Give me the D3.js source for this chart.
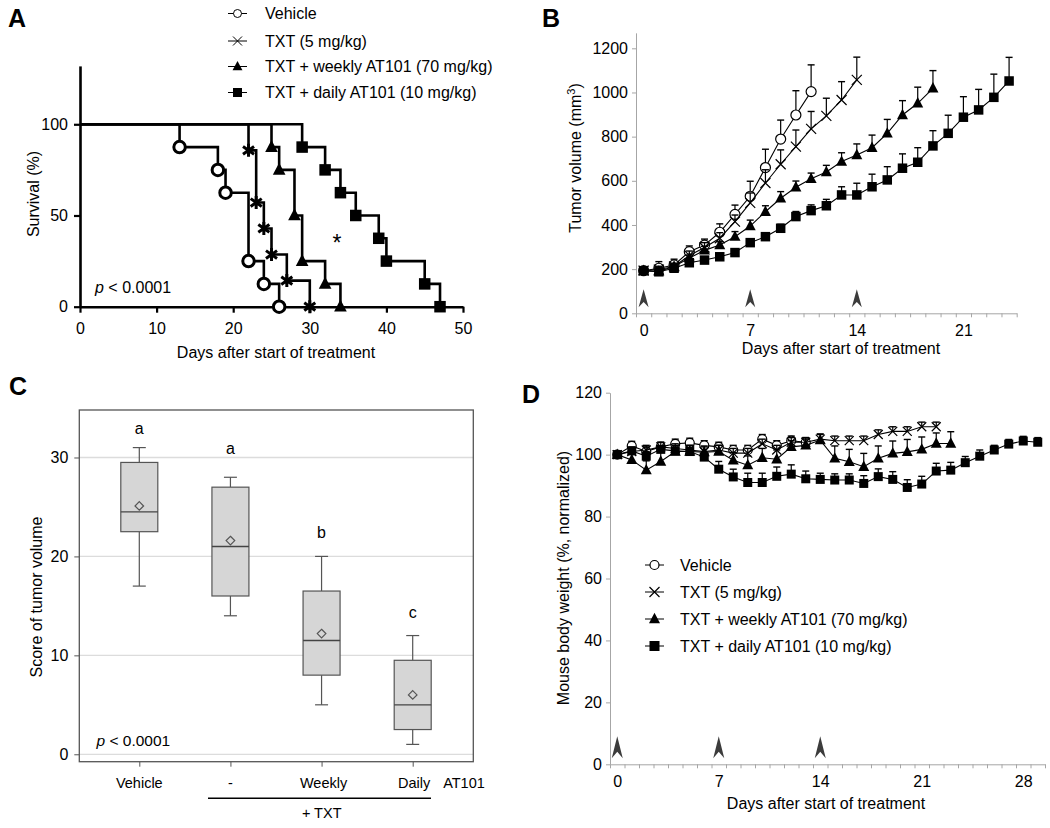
<!DOCTYPE html>
<html><head><meta charset="utf-8">
<script src="https://cdn.jsdelivr.net/npm/d3@7"></script>
<style>body{margin:0;background:#fff}svg{display:block}text{font-family:"Liberation Sans",Arial,Helvetica,sans-serif}</style>
</head><body><svg id="c" width="1050" height="828"></svg>
<script>
// ---------------- DATA ----------------
const seriesNames = ["Vehicle", "TXT (5 mg/kg)", "TXT + weekly AT101 (70 mg/kg)", "TXT + daily AT101 (10 mg/kg)"];
const markerTypes = ["circle", "cross", "triangle", "square"];

// Panel A: Kaplan-Meier events (day, survival %)
const survVehicleT = [13, 18, 19, 22, 24, 26];
const survVehicleS = [87.5, 75, 62.5, 25, 12.5, 0];
const survTxtT = [22, 23, 24, 25, 27, 30];
const survTxtS = [85.7, 57.1, 42.9, 28.6, 14.3, 0];
const survWeeklyT = [25, 26, 28, 29, 32, 34];
const survWeeklyS = [87.5, 75, 50, 25, 12.5, 0];
const survDailyT = [29, 32, 34, 36, 39, 40, 45, 47];
const survDailyS = [87.5, 75, 62.5, 50, 37.5, 25, 12.5, 0];
const survTicksX = [0, 10, 20, 30, 40, 50];
const survTicksY = [0, 50, 100];

// Panel B: tumor volume (mm3), one value per day from day 0
const volVehicle = [193, 204, 219, 279, 309, 367, 448, 530, 660, 789, 898, 1004];
const volVehicleErr = [0, 30, 26, 26, 27, 38, 42, 68, 83, 86, 110, 121];
const volTxt = [193, 198, 212, 262, 298, 340, 415, 500, 590, 675, 755, 835, 894, 966, 1057];
const volTxtErr = [0, 15, 15, 20, 22, 25, 30, 45, 60, 65, 75, 79, 80, 83, 103];
const volWeekly = [193, 190, 212, 250, 285, 309, 347, 395, 460, 521, 571, 609, 640, 687, 717, 750, 815, 898, 951, 1019];
const volWeeklyErr = [0, 12, 12, 14, 18, 15, 23, 27, 27, 30, 28, 26, 30, 40, 50, 57, 63, 65, 73, 80];
const volDaily = [193, 188, 204, 229, 241, 256, 275, 320, 347, 385, 438, 465, 487, 536, 536, 573, 604, 657, 684, 758, 815, 888, 921, 978, 1052];
const volDailyErr = [0, 8, 8, 10, 10, 10, 12, 15, 15, 18, 23, 26, 29, 37, 53, 57, 60, 65, 66, 69, 82, 93, 93, 105, 107];
const volTicksY = [0, 200, 400, 600, 800, 1000, 1200];
const dayLabelsB = [0, 7, 14, 21];
const doseDays = [0, 7, 14];

// Panel C: box plots of tumor-volume score
const boxCategories = ["Vehicle", "-", "Weekly", "Daily"];
const boxMin = [17, 14, 5, 1];
const boxQ1 = [22.5, 16, 8, 2.5];
const boxMedian = [24.5, 21, 11.5, 5];
const boxQ3 = [29.5, 27, 16.5, 9.5];
const boxMax = [31, 28, 20, 12];
const boxMean = [25.1, 21.6, 12.2, 6.0];
const boxLetters = ["a", "a", "b", "c"];
const boxLetterLevel = [32.4, 30.4, 21.9, 13.8];
const scoreTicks = [0, 10, 20, 30];

// Panel D: body weight (% normalized), one value per day from day 0
const bwVehicle = [100, 102.8, 101, 102.5, 103.5, 103.8, 103, 102.5, 101.5, 101.5, 105, 103, 104.5, 104];
const bwVehicleErr = [0, 1.5, 1.5, 1.5, 1.5, 1.5, 1.5, 1.5, 1.5, 1.5, 1.5, 1.5, 1.5, 1.5];
const bwTxt = [100, 101, 101.5, 102.5, 102, 101.5, 101, 101.5, 100.5, 100.5, 103.5, 101.5, 104, 104, 105, 104.5, 104.5, 104.5, 106.5, 107.5, 107.5, 109, 109];
const bwTxtErr = [0, 1.5, 1.5, 1.5, 1.5, 1.5, 1.5, 1.5, 1.5, 1.5, 1.5, 1.5, 1.5, 1.5, 1.5, 1.5, 1.5, 1.5, 1.5, 1.5, 1.5, 1.5, 1.5];
const bwWeekly = [100, 98.3, 95, 97.8, 101, 101, 100.8, 101, 98.2, 96.6, 99, 98.5, 102.5, 103, 104.7, 98.8, 97.7, 96.1, 98.8, 100.4, 100.9, 101.7, 103.6, 103.6];
const bwWeeklyErr = [0, 2, 3, 3, 2, 2, 2, 2, 2.5, 3, 3, 3, 2, 2, 2, 4, 4, 4.3, 4, 4, 4, 4, 3.4, 3.8];
const bwDaily = [100, 101.2, 99.5, 101.7, 101.2, 101, 99.2, 95.3, 92.8, 91, 91, 93, 93.7, 92.2, 92, 91.8, 91.8, 90.7, 92.9, 92, 89.4, 90.5, 94.7, 95, 97.4, 99.5, 101.5, 103.4, 104.4, 104];
const bwDailyErr = [0, 1, 1.5, 1, 1, 1, 1.5, 2.5, 2.5, 3, 3, 3, 3, 2.5, 2, 2, 2, 2.5, 2.5, 2.5, 2.5, 2.5, 2.5, 2.5, 2, 2, 1.5, 1.5, 1.5, 1.5];
const bwTicksY = [0, 20, 40, 60, 80, 100, 120];
const dayLabelsD = [0, 7, 14, 21, 28];

// ---------------- DRAWING ----------------
const svg = d3.select("#c");
svg.append("rect").attr("width", 1050).attr("height", 828).attr("fill", "#fff");
const AXC = "#a6a6a6";

function drawMarker(g, type, x, y, s, sw) {
  if (type === "circle") {
    g.append("circle").attr("cx", x).attr("cy", y).attr("r", s / 2)
      .attr("fill", "#fff").attr("stroke", "#000").attr("stroke-width", sw);
  } else if (type === "square") {
    g.append("rect").attr("x", x - s / 2).attr("y", y - s / 2).attr("width", s).attr("height", s).attr("fill", "#000");
  } else if (type === "triangle") {
    g.append("path").attr("d", `M${x},${y - s * 0.62}L${x + s * 0.55},${y + s * 0.42}L${x - s * 0.55},${y + s * 0.42}Z`).attr("fill", "#000");
  } else if (type === "cross") {
    const h = s / 2;
    g.append("path").attr("d", `M${x - h},${y - h}L${x + h},${y + h}M${x + h},${y - h}L${x - h},${y + h}`)
      .attr("stroke", "#000").attr("stroke-width", sw).attr("fill", "none");
  } else if (type === "star") {
    const h = s / 2;
    g.append("path").attr("d", `M${x - h * 0.85},${y - h * 0.6}L${x + h * 0.85},${y + h * 0.6}M${x + h * 0.85},${y - h * 0.6}L${x - h * 0.85},${y + h * 0.6}M${x},${y - h}L${x},${y + h}`)
      .attr("stroke", "#000").attr("stroke-width", sw).attr("fill", "none");
  }
}

function panelLetter(t, x, y) {
  svg.append("text").attr("x", x).attr("y", y).attr("font-size", 25).attr("font-weight", "bold").text(t);
}

function arrow(g, x, yBase, h, w) {
  g.append("path")
    .attr("d", `M${x},${yBase - h}L${x + w / 2},${yBase}L${x},${yBase - h * 0.3}L${x - w / 2},${yBase}Z`)
    .attr("fill", "#3c3c3c");
}

// ======== Panel A ========
(function () {
  const g = svg.append("g");
  const x = d3.scaleLinear([0, 50], [80, 463]);
  const y = d3.scaleLinear([0, 132], [306.7, 65.9]);

  const groups = [
    [survVehicleT, survVehicleS, "circle"],
    [survTxtT, survTxtS, "star"],
    [survWeeklyT, survWeeklyS, "triangle"],
    [survDailyT, survDailyS, "square"]
  ];
  const line = d3.line().x(d => x(d[0])).y(d => y(d[1])).curve(d3.curveStepAfter);
  groups.forEach(([T, S]) => {
    const pts = [[0, 100]].concat(T.map((t, i) => [t, S[i]]));
    g.append("path").attr("d", line(pts)).attr("fill", "none").attr("stroke", "#000").attr("stroke-width", 2.6);
  });

  const ax = g.append("g").attr("transform", "translate(0,306.7)")
    .call(d3.axisBottom(x).tickValues(survTicksX).tickSize(6).tickSizeOuter(0));
  ax.select(".domain").attr("stroke-width", 2.6);
  ax.selectAll(".tick line").attr("stroke-width", 2.2);
  ax.selectAll("text").attr("font-size", 16).attr("font-family", null).attr("y", 16);
  const ay = g.append("g").attr("transform", "translate(80,0)")
    .call(d3.axisLeft(y).tickValues(survTicksY).tickSize(6).tickSizeOuter(0).tickPadding(6));
  ay.select(".domain").attr("stroke-width", 2.6);
  ay.selectAll(".tick line").attr("stroke-width", 2.2);
  ay.selectAll("text").attr("font-size", 16).attr("font-family", null);

  groups.forEach(([T, S, m]) => {
    T.forEach((t, i) => {
      const s = m === "circle" ? 11.5 : m === "star" ? 13 : 11.5;
      drawMarker(g, m, x(t), y(S[i]), s, 3);
    });
  });

  g.append("text").attr("x", 276).attr("y", 357.5).attr("text-anchor", "middle").attr("font-size", 16).text("Days after start of treatment");
  g.append("text").attr("transform", "translate(39,194) rotate(-90)").attr("text-anchor", "middle").attr("font-size", 16).text("Survival (%)");
  const p = g.append("text").attr("x", 95).attr("y", 292.5).attr("font-size", 16);
  p.append("tspan").attr("font-style", "italic").text("p");
  p.append("tspan").text(" < 0.0001");
  g.append("text").attr("x", 337).attr("y", 251).attr("text-anchor", "middle").attr("font-size", 23).text("*");

  const rows = [13.5, 41, 66.5, 92.5];
  seriesNames.forEach((n, i) => {
    g.append("line").attr("x1", 228).attr("x2", 247).attr("y1", rows[i]).attr("y2", rows[i]).attr("stroke", "#000").attr("stroke-width", 1);
    drawMarker(g, markerTypes[i], 237.5, rows[i], markerTypes[i] === "circle" ? 8 : 9, 1);
    g.append("text").attr("x", 265).attr("y", rows[i] + 5.5).attr("font-size", 16).text(n);
  });
  panelLetter("A", 8, 27);
})();

// ======== generic time-course panel (B and D) ========
function timeCourse(cfg) {
  const g = svg.append("g");
  const x = d3.scaleLinear(cfg.xDom, cfg.xRange);
  const y = d3.scaleLinear(cfg.yDom, cfg.yRange);
  const y0 = cfg.yRange[0];

  const tickVals = d3.range(cfg.xDom[0], cfg.xDom[1] + 0.01, 1);
  const ax = g.append("g").attr("transform", `translate(0,${y0})`)
    .call(d3.axisBottom(x).tickValues(tickVals).tickFormat("").tickSize(4).tickSizeOuter(0));
  ax.selectAll("path,line").attr("stroke", AXC);
  const axl = g.append("g").attr("transform", `translate(0,${y0})`)
    .call(d3.axisBottom(x).tickValues(cfg.dayLabels).tickSize(0).tickPadding(0));
  axl.select(".domain").remove();
  axl.selectAll("text").attr("font-size", 16).attr("font-family", null).attr("dy", null).attr("y", cfg.tickLabelY);
  const ay = g.append("g").attr("transform", `translate(${cfg.xRange[0]},0)`)
    .call(d3.axisLeft(y).tickValues(cfg.yTicks).tickFormat(d3.format("d")).tickSize(4).tickSizeOuter(0).tickPadding(4));
  ay.selectAll("path,line").attr("stroke", AXC);
  ay.selectAll("text").attr("font-size", 16).attr("font-family", null);

  doseDays.forEach(d => arrow(g, x(d), y0 - cfg.arrowGap, cfg.arrowH, cfg.arrowW));

  const line = d3.line().x((d, i) => x(i)).y(d => y(d));
  cfg.series.forEach(([vals, errs, m]) => {
    const sg = g.append("g");
    vals.forEach((v, i) => {
      if (errs[i] > 0) {
        const yt = y(v + errs[i]);
        sg.append("line").attr("x1", x(i)).attr("x2", x(i)).attr("y1", y(v)).attr("y2", yt).attr("stroke", "#000").attr("stroke-width", 1.2);
        sg.append("line").attr("x1", x(i) - 3.5).attr("x2", x(i) + 3.5).attr("y1", yt).attr("y2", yt).attr("stroke", "#000").attr("stroke-width", 1.4);
      }
    });
    sg.append("path").attr("d", line(vals)).attr("fill", "none").attr("stroke", "#000").attr("stroke-width", 1.1);
    vals.forEach((v, i) => drawMarker(sg, m, x(i), y(v), cfg.msize[m], 1.2));
  });

  g.append("text").attr("x", cfg.xLabel[0]).attr("y", cfg.xLabel[1]).attr("text-anchor", "middle").attr("font-size", 16).text("Days after start of treatment");
  return g;
}

// ======== Panel B ========
(function () {
  const g = timeCourse({
    xDom: [-0.5, 24.5], xRange: [636, 1016.7],
    yDom: [0, 1270], yRange: [313.3, 32.85],
    yTicks: volTicksY, dayLabels: dayLabelsB, tickLabelY: 22.3,
    arrowGap: 6, arrowH: 18, arrowW: 10,
    msize: { circle: 10, cross: 10, triangle: 10, square: 9.5 },
    series: [[volVehicle, volVehicleErr, "circle"], [volTxt, volTxtErr, "cross"], [volWeekly, volWeeklyErr, "triangle"], [volDaily, volDailyErr, "square"]],
    xLabel: [841, 354]
  });
  const t = g.append("text").attr("transform", "translate(581,158) rotate(-90)").attr("text-anchor", "middle").attr("font-size", 16);
  t.append("tspan").text("Tumor volume (mm");
  t.append("tspan").attr("font-size", 11).attr("dy", -6).text("3");
  t.append("tspan").attr("dy", 6).text(")");
  panelLetter("B", 542, 27);
})();

// ======== Panel D ========
(function () {
  const g = timeCourse({
    xDom: [-0.5, 29.5], xRange: [610, 1045],
    yDom: [0, 120], yRange: [764.3, 392.7],
    yTicks: bwTicksY, dayLabels: dayLabelsD, tickLabelY: 23.2,
    arrowGap: 6, arrowH: 22, arrowW: 11,
    msize: { circle: 9, cross: 9, triangle: 10, square: 9 },
    series: [[bwVehicle, bwVehicleErr, "circle"], [bwTxt, bwTxtErr, "cross"], [bwWeekly, bwWeeklyErr, "triangle"], [bwDaily, bwDailyErr, "square"]],
    xLabel: [826, 809]
  });
  g.append("text").attr("transform", "translate(569,578) rotate(-90)").attr("text-anchor", "middle").attr("font-size", 16).text("Mouse body weight (%, normalized)");
  const rows = [565, 592, 619, 646];
  seriesNames.forEach((n, i) => {
    g.append("line").attr("x1", 645).attr("x2", 664).attr("y1", rows[i]).attr("y2", rows[i]).attr("stroke", "#000").attr("stroke-width", 1);
    drawMarker(g, markerTypes[i], 654.5, rows[i], markerTypes[i] === "circle" ? 9 : 10, 1.2);
    g.append("text").attr("x", 680).attr("y", rows[i] + 5.5).attr("font-size", 16).text(n);
  });
  panelLetter("D", 522, 403);
})();

// ======== Panel C ========
(function () {
  const g = svg.append("g");
  const left = 79.3, right = 473.3, top = 410, bottom = 761.7;
  const x = d3.scalePoint(boxCategories, [139.3, 412.7]);
  const y = d3.scaleLinear([-0.75, 34.8], [bottom, top]);

  scoreTicks.forEach(v => {
    g.append("line").attr("x1", left).attr("x2", right).attr("y1", y(v)).attr("y2", y(v)).attr("stroke", "#dcdcdc").attr("stroke-width", 1.3);
  });
  const ay = g.append("g").attr("transform", `translate(${left},0)`)
    .call(d3.axisLeft(y).tickValues(scoreTicks).tickSize(5).tickSizeOuter(0).tickPadding(6));
  ay.select(".domain").remove();
  ay.selectAll("line").attr("stroke", "#555");
  ay.selectAll("text").attr("font-size", 16).attr("font-family", null);
  const ax = g.append("g").attr("transform", `translate(0,${bottom})`)
    .call(d3.axisBottom(x).tickSize(5).tickSizeOuter(0).tickFormat(""));
  ax.select(".domain").remove();
  ax.selectAll("line").attr("stroke", "#555");

  const bw = 37, cw = 13;
  boxCategories.forEach((c, i) => {
    const cx = x(c);
    const st = { stroke: "#555", w: 1.2 };
    g.append("line").attr("x1", cx).attr("x2", cx).attr("y1", y(boxMax[i])).attr("y2", y(boxQ3[i])).attr("stroke", st.stroke).attr("stroke-width", st.w);
    g.append("line").attr("x1", cx).attr("x2", cx).attr("y1", y(boxQ1[i])).attr("y2", y(boxMin[i])).attr("stroke", st.stroke).attr("stroke-width", st.w);
    g.append("line").attr("x1", cx - cw / 2).attr("x2", cx + cw / 2).attr("y1", y(boxMax[i])).attr("y2", y(boxMax[i])).attr("stroke", st.stroke).attr("stroke-width", st.w);
    g.append("line").attr("x1", cx - cw / 2).attr("x2", cx + cw / 2).attr("y1", y(boxMin[i])).attr("y2", y(boxMin[i])).attr("stroke", st.stroke).attr("stroke-width", st.w);
    g.append("rect").attr("x", cx - bw / 2).attr("width", bw).attr("y", y(boxQ3[i])).attr("height", y(boxQ1[i]) - y(boxQ3[i]))
      .attr("fill", "#d6d6d6").attr("stroke", st.stroke).attr("stroke-width", st.w);
    g.append("line").attr("x1", cx - bw / 2).attr("x2", cx + bw / 2).attr("y1", y(boxMedian[i])).attr("y2", y(boxMedian[i])).attr("stroke", "#444").attr("stroke-width", 1.3);
    const my = y(boxMean[i]), d = 4.3;
    g.append("path").attr("d", `M${cx},${my - d}L${cx + d},${my}L${cx},${my + d}L${cx - d},${my}Z`).attr("fill", "none").attr("stroke", "#555").attr("stroke-width", 1.2);
    g.append("text").attr("x", cx).attr("y", y(boxLetterLevel[i])).attr("text-anchor", "middle").attr("font-size", 16).text(boxLetters[i]);
    g.append("text").attr("x", cx + (c === "Weekly" ? 2 : c === "Daily" ? 1.5 : 0)).attr("y", 787.5).attr("text-anchor", "middle").attr("font-size", 14.5).text(c);
  });
  g.append("rect").attr("x", left).attr("y", top).attr("width", right - left).attr("height", bottom - top).attr("fill", "none").attr("stroke", "#555").attr("stroke-width", 1.3);

  g.append("text").attr("x", 464).attr("y", 787.5).attr("text-anchor", "middle").attr("font-size", 14.5).text("AT101");
  g.append("line").attr("x1", 208).attr("x2", 431).attr("y1", 798.3).attr("y2", 798.3).attr("stroke", "#000").attr("stroke-width", 1.6);
  g.append("text").attr("x", 321.7).attr("y", 818).attr("text-anchor", "middle").attr("font-size", 14.5).text("+ TXT");
  const p = g.append("text").attr("x", 96.5).attr("y", 745.5).attr("font-size", 15.5);
  p.append("tspan").attr("font-style", "italic").text("p");
  p.append("tspan").text(" < 0.0001");
  g.append("text").attr("transform", "translate(42,597) rotate(-90)").attr("text-anchor", "middle").attr("font-size", 16).text("Score of tumor volume");
  panelLetter("C", 9, 395);
})();
</script>
</body></html>
